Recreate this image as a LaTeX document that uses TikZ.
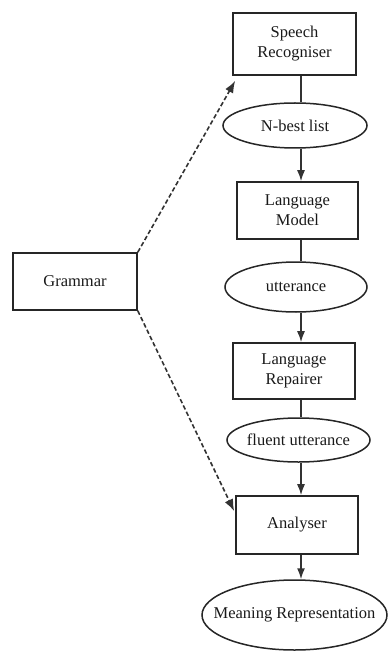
\documentclass[tikz,border=0pt]{standalone}
\usepackage{fontspec}
\setmainfont{Liberation Serif}
\usetikzlibrary{shapes.geometric,arrows.meta,calc}
\begin{document}
\begin{tikzpicture}[x=1pt,y=-1pt,
 every node/.style={font=\fontsize{16.5}{20}\selectfont, text=black!90},
 procbox/.style={draw=black!85, line width=1.6pt, rectangle, inner sep=0pt, align=center},
 databox/.style={draw=black!85, line width=1.5pt, ellipse, inner sep=0pt},
 link/.style={draw=black!80, line width=1.5pt},
 arr/.style={link, -{Latex[length=11pt,width=8pt]}},
 dasharr/.style={draw=black!80, line width=1.6pt, dash pattern=on 4.5pt off 2.5pt, -{Latex[length=12pt,width=9pt]}}]
\useasboundingbox (0,0) rectangle (390,652);
\node[procbox, minimum width=123pt, minimum height=62pt] (sr) at (294.5,44) {Speech\\Recogniser};
\node[databox, minimum width=144pt, minimum height=45pt] (nb) at (295,125.5) {\makebox[0pt]{N-best list}};
\node[procbox, minimum width=121pt, minimum height=57pt] (lm) at (297.5,210.5) {Language\\Model};
\node[databox, minimum width=142pt, minimum height=50pt] (ut) at (296,287) {\makebox[0pt]{utterance}};
\node[procbox, minimum width=122pt, minimum height=56pt] (lr) at (294,371) {Language\\Repairer};
\node[databox, minimum width=143pt, minimum height=44pt] (fu) at (298.5,440) {\makebox[0pt]{fluent utterance}};
\node[procbox, minimum width=122pt, minimum height=58pt] (an) at (297,525) {Analyser};
\node[databox, minimum width=185pt, minimum height=70pt] (mr) at (294.5,615) {\makebox[0pt]{Meaning Representation}};
\node[procbox, minimum width=124pt, minimum height=57pt] (gr) at (75,281.5) {Grammar};
\coordinate (spine) at (301,0);
\draw[link] (sr.south -| spine) -- (nb.north -| spine);
\draw[arr] (nb.south -| spine) -- (lm.north -| spine);
\draw[link] (lm.south -| spine) -- (ut.north -| spine);
\draw[arr] (ut.south -| spine) -- (lr.north -| spine);
\draw[link] (lr.south -| spine) -- (fu.north -| spine);
\draw[arr] (fu.south -| spine) -- (an.north -| spine);
\draw[arr] (an.south -| spine) -- (mr.north -| spine);
\draw[dasharr] (gr.north east) -- ($(sr.south west)+(3,5)$);
\draw[dasharr] (gr.south east) -- ($(an.north west)+(-1,16)$);
\end{tikzpicture}
\end{document}
